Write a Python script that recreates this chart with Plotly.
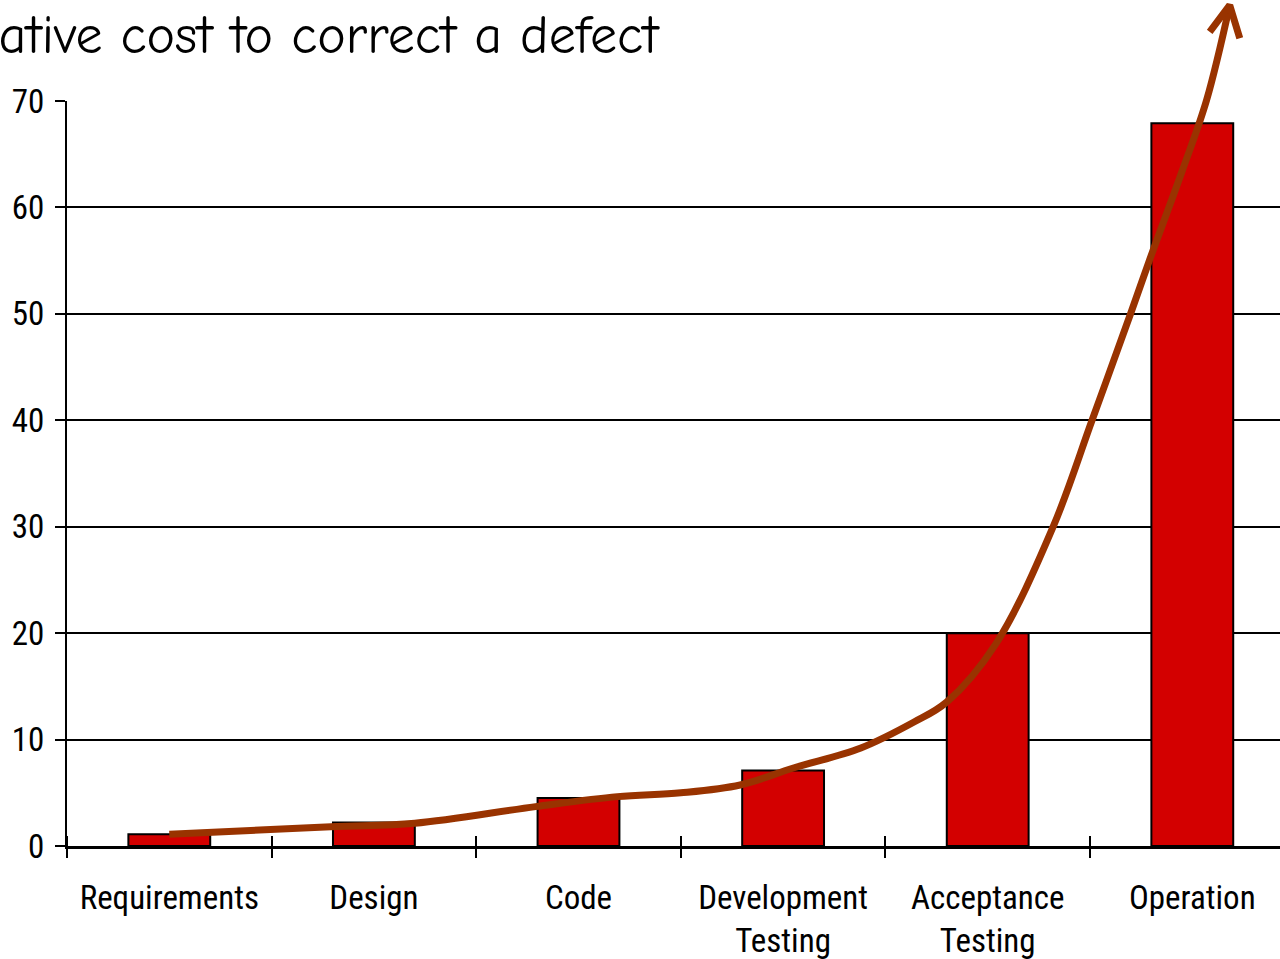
import plotly.graph_objects as go

# ---- data ----
categories = ["Requirements", "Design", "Code", "Development<br>Testing",
              "Acceptance<br>Testing", "Operation"]
relative_cost = [1.1, 2.2, 4.5, 7.1, 20, 67.9]
y_ticks = [0, 10, 20, 30, 40, 50, 60, 70]

# hand-drawn trend curve (x in category index units, y in cost units)
curve_x = [0.0, 0.79, 1.2, 1.79, 2.19, 2.5, 2.79, 3.05, 3.38, 3.64, 3.8,
           4.04, 4.32, 4.51, 4.7, 4.79, 4.95, 5.07, 5.183]
curve_y = [1.1, 1.82, 2.13, 3.7, 4.64, 5.0, 5.73, 7.33, 9.21, 11.65, 13.53,
           19.0, 30.0, 40.0, 50.1, 55.0, 63.4, 70.1, 79.0]
# arrow head: left wing, tip, right wing
head_x = [5.085, 5.183, 5.232]
head_y = [76.5, 79.0, 75.9]

title_text = "Relative cost to correct a defect"

# ---- layout constants ----
W, H = 1280, 959
ML, MB = 67, 113
plot_h = H - MB
top_px = 101
y_dom_top = (plot_h - top_px) / plot_h
y_max = 70
y2_max = y_max / y_dom_top
x_range = [-0.5, -0.5 + (W - ML) / 204.6]
boundaries = [i - 0.5 for i in range(len(categories) + 1)]

RED = "#D30000"
BROWN = "#993300"
label_font = dict(family="Liberation Sans Narrow, Arial Narrow, Roboto Condensed, sans-serif",
                  size=33, color="black")

fig = go.Figure()
fig.add_trace(go.Bar(
    x=categories, y=relative_cost, xaxis="x", yaxis="y",
    marker=dict(color=RED, line=dict(color="black", width=2)),
    width=0.4, showlegend=False, hoverinfo="skip"))
fig.add_trace(go.Scatter(
    x=curve_x, y=curve_y, xaxis="x2", yaxis="y2", mode="lines",
    line=dict(color=BROWN, width=7, shape="spline", smoothing=1.0),
    showlegend=False, hoverinfo="skip"))
fig.add_trace(go.Scatter(
    x=head_x, y=head_y, xaxis="x2", yaxis="y2", mode="lines",
    line=dict(color=BROWN, width=7),
    showlegend=False, hoverinfo="skip"))

fig.update_layout(
    width=W, height=H,
    margin=dict(l=ML, r=0, t=0, b=MB, autoexpand=False),
    paper_bgcolor="white", plot_bgcolor="rgba(0,0,0,0)",
    xaxis=dict(type="category", range=x_range, ticks="",
               ticklabelstandoff=20, tickfont=label_font, automargin=False,
               showgrid=False, zeroline=False, showline=True,
               linecolor="black", linewidth=3, anchor="y"),
    xaxis2=dict(type="linear", range=x_range, domain=[0, 1], anchor="free",
                position=11 / plot_h,
                tickmode="array", tickvals=boundaries, ticks="outside",
                ticklen=22, tickwidth=2, tickcolor="black", automargin=False,
                showticklabels=False, showgrid=False, zeroline=False, showline=False),
    yaxis=dict(range=[0, y_max], domain=[0, y_dom_top], tickmode="array",
               tickvals=y_ticks, ticks="outside", ticklen=10, tickwidth=2,
               tickcolor="black", ticklabelstandoff=4, tickfont=label_font,
               automargin=False,
               showgrid=True, gridcolor="black", gridwidth=2, zeroline=False,
               showline=True, linecolor="black", linewidth=2, anchor="x"),
    yaxis2=dict(range=[0, y2_max], domain=[0, 1], anchor="x2", visible=False,
                automargin=False),
    annotations=[dict(text=title_text, xref="paper", yref="paper",
                      x=(662 - ML) / (W - ML), y=(plot_h - 36) / plot_h,
                      xanchor="right", yanchor="middle", showarrow=False,
                      font=dict(family="Comic Sans MS, Comic Neue, Lato, sans-serif",
                                size=54, color="black"))],
)

fig.write_html("out.html", config={"displayModeBar": False},
               post_script="document.body.style.margin='0';")
